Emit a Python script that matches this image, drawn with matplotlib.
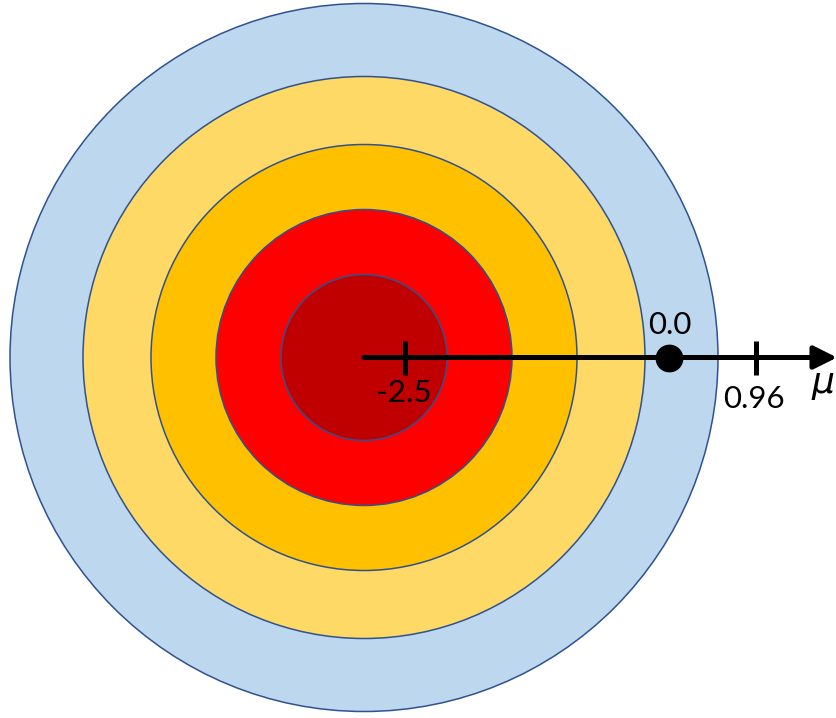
import matplotlib
matplotlib.use("Agg")
import matplotlib.pyplot as plt
from matplotlib.patches import Circle

# concentric rings (outer -> inner), radii in pixel units of the canvas
ring_radii = [354, 281, 213, 148, 83]
ring_colors = ["#BDD7EE", "#FFD966", "#FFC000", "#FF0000", "#C00000"]

# marks along the mu axis
tick_labels = ["-2.5", "0.96"]
tick_x = [405.5, 756]
point_label = "0.0"
point_x = [669]

center = (364, 357.5)

plt.rcParams["font.family"] = ["Lato", "DejaVu Sans"]

fig = plt.figure(figsize=(8.37, 7.18), dpi=100)
ax = fig.add_axes([0, 0, 1, 1])
ax.set_xlim(0, 837)
ax.set_ylim(718, 0)
ax.set_aspect("equal")
ax.axis("off")

for r, c in zip(ring_radii, ring_colors):
    ax.add_patch(Circle(center, r, facecolor=c, edgecolor="#2F528F", lw=1.1, zorder=1))

cy = center[1]
# axis arrow
ax.annotate("", xy=(837, cy), xytext=(center[0], cy),
            arrowprops=dict(arrowstyle="-|>,head_length=0.7,head_width=0.35",
                            lw=3.6, color="black", shrinkA=0, shrinkB=0,
                            mutation_scale=20),
            zorder=3)

# ticks
ax.vlines(tick_x, cy - 17, cy + 17, colors="black", lw=3.6, zorder=3)
ax.plot(point_x, [cy], "o", color="black", markersize=19, zorder=4)

ax.text(tick_x[0] - 2, cy + 36, tick_labels[0], ha="center", va="center", fontsize=22.5, zorder=5)
ax.text(tick_x[1] - 2, cy + 42, tick_labels[1], ha="center", va="center", fontsize=22.5, zorder=5)
ax.text(point_x[0] + 1, cy - 33, point_label, ha="center", va="center", fontsize=22.5, zorder=5)
ax.text(835, cy + 28, r"$\mu$", ha="right", va="center", fontsize=26, zorder=5)

fig.savefig("out.png", dpi=100)
